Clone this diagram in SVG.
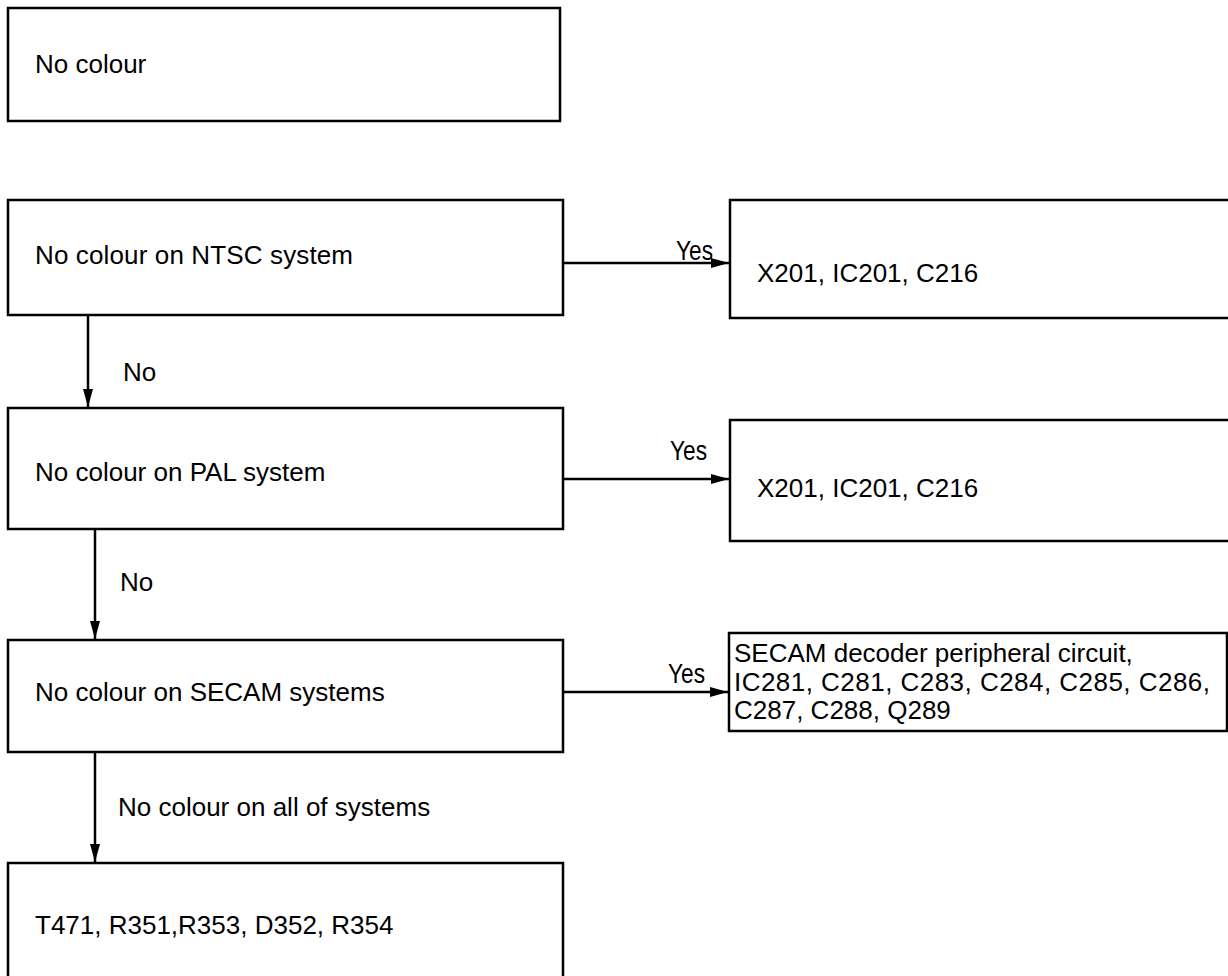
<svg xmlns="http://www.w3.org/2000/svg" width="1228" height="976" viewBox="0 0 1228 976">
<style>
.box{fill:#fff;stroke:#000;stroke-width:2.5}
.t{font-family:"Liberation Sans",Arial,sans-serif;font-size:26px;fill:#000}
.y{font-family:"Liberation Sans",Arial,sans-serif;font-size:28px;fill:#000}
.c{stroke:#000;stroke-width:2.5;fill:none}
</style>
<defs>
<marker id="ah" markerWidth="18" markerHeight="10" refX="18" refY="5" orient="auto" markerUnits="userSpaceOnUse">
<path d="M0,0 L18,5 L0,10 Z" fill="#000"/>
</marker>
</defs>
<rect width="1228" height="976" fill="#fff"/>
<g id="connectors">
<line class="c" x1="563" y1="263" x2="729" y2="263" marker-end="url(#ah)"/>
<text class="y" x="676" y="260" textLength="37" lengthAdjust="spacingAndGlyphs">Yes</text>
<line class="c" x1="88" y1="315" x2="88" y2="407" marker-end="url(#ah)"/>
<text class="t" x="123" y="381">No</text>
<line class="c" x1="563" y1="479" x2="729" y2="479" marker-end="url(#ah)"/>
<text class="y" x="670" y="460" textLength="37" lengthAdjust="spacingAndGlyphs">Yes</text>
<line class="c" x1="95" y1="529" x2="95" y2="639" marker-end="url(#ah)"/>
<text class="t" x="120" y="591">No</text>
<line class="c" x1="563" y1="692" x2="728" y2="692" marker-end="url(#ah)"/>
<text class="y" x="668" y="683" textLength="37" lengthAdjust="spacingAndGlyphs">Yes</text>
<line class="c" x1="95" y1="752" x2="95" y2="862" marker-end="url(#ah)"/>
<text class="t" x="118" y="816">No colour on all of systems</text>
</g>
<g id="n1">
<rect class="box" x="8" y="8" width="552" height="113"/>
<text class="t" x="35" y="73">No colour</text>
</g>
<g id="n2">
<rect class="box" x="8" y="200" width="555" height="115"/>
<text class="t" x="35" y="264" textLength="318">No colour on NTSC system</text>
</g>
<g id="n2y">
<rect class="box" x="730" y="200" width="502" height="118"/>
<text class="t" x="757" y="282">X201, IC201, C216</text>
</g>
<g id="n3">
<rect class="box" x="8" y="408" width="555" height="121"/>
<text class="t" x="35" y="481">No colour on PAL system</text>
</g>
<g id="n3y">
<rect class="box" x="730" y="420" width="502" height="121"/>
<text class="t" x="757" y="497">X201, IC201, C216</text>
</g>
<g id="n4">
<rect class="box" x="8" y="640" width="555" height="112"/>
<text class="t" x="35" y="701">No colour on SECAM systems</text>
</g>
<g id="n4y">
<rect class="box" x="729" y="633" width="498" height="98"/>
<text class="t" x="734" y="662">SECAM decoder peripheral circuit,</text>
<text class="t" x="734" y="691" textLength="476">IC281, C281, C283, C284, C285, C286,</text>
<text class="t" x="734" y="719">C287, C288, Q289</text>
</g>
<g id="n5">
<rect class="box" x="8" y="863" width="555" height="130"/>
<text class="t" x="35" y="934">T471, R351,R353, D352, R354</text>
</g>
</svg>
